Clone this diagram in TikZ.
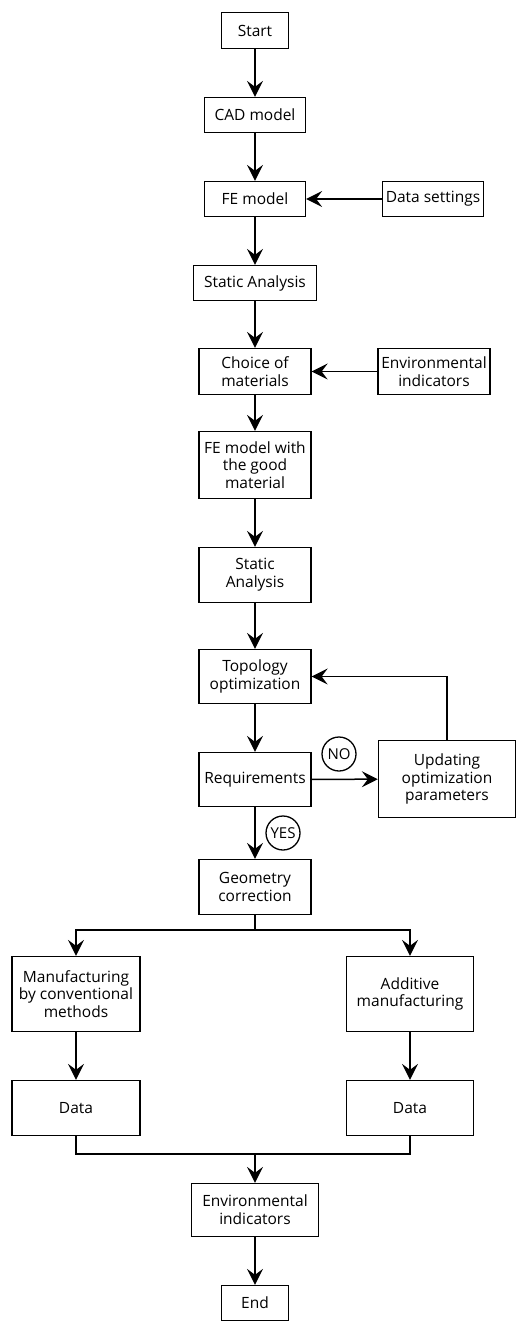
\documentclass[tikz,border=0pt]{standalone}
\usepackage{fontspec}
\setmainfont{Open Sans}
\usetikzlibrary{arrows.meta}
\begin{document}
\begin{tikzpicture}[x=1pt, y=-1pt,
        box/.style={draw, line width=1.3pt, align=center, inner sep=2pt,
            font=\fontsize{15.5}{17.7}\selectfont},
        tag/.style={draw, circle, line width=1.3pt, minimum size=34pt, inner sep=0pt,
            font=\fontsize{15}{15}\selectfont},
        arr/.style={line width=1.5pt, -{Stealth[length=16pt, width=16pt, inset=6pt]}},
        lin/.style={line width=1.5pt}]
        \useasboundingbox (0,0) rectangle (517,1322);

        \node[box, minimum width=67pt, minimum height=36pt] (start) at (255,30.5) {Start};
        \node[box, minimum width=101pt, minimum height=35pt] (cad) at (255,115) {CAD model};
        \node[box, minimum width=101pt, minimum height=35pt] (fe) at (255,199) {FE model};
        \node[box, minimum width=101pt, minimum height=35pt] (dset) at (433,199) {Data settings};
        \node[box, minimum width=123pt, minimum height=35pt] (stat1) at (255,283) {Static Analysis};
        \node[box, minimum width=112pt, minimum height=46pt] (choice) at (255,371.5) {Choice of\\materials};
        \node[box, minimum width=112pt, minimum height=46pt] (env1) at (434,371.5) {Environmental\\indicators};
        \node[box, minimum width=112pt, minimum height=67pt] (femat) at (255,465) {FE model with\\the good\\material};
        \node[box, minimum width=112pt, minimum height=55pt] (stat2) at (255,575) {Static\\Analysis};
        \node[box, minimum width=112pt, minimum height=54pt] (topo) at (255,676.5) {Topology\\optimization};
        \node[box, minimum width=112pt, minimum height=54pt] (req) at (255,779.5) {Requirements};
        \node[box, minimum width=137pt, minimum height=77pt] (upd) at (447,779) {Updating\\optimization\\parameters};
        \node[box, minimum width=112pt, minimum height=55pt] (geo) at (255,887) {Geometry\\correction};
        \node[box, minimum width=128pt, minimum height=75pt] (manu) at (76,994) {Manufacturing\\by conventional\\methods};
        \node[box, minimum width=127pt, minimum height=75pt] (add) at (410,994) {Additive\\manufacturing};
        \node[box, minimum width=128pt, minimum height=55pt] (data1) at (76,1108) {Data};
        \node[box, minimum width=127pt, minimum height=55pt] (data2) at (410,1108) {Data};
        \node[box, minimum width=127pt, minimum height=53pt] (env2) at (255,1210) {Environmental\\indicators};
        \node[box, minimum width=67pt, minimum height=35pt] (end) at (255,1303) {End};

        \node[tag] (no) at (339,754) {NO};
        \node[tag] (yes) at (283,833) {YES};

        \coordinate (split) at (255,930);
        \coordinate (merge) at (255,1154);

        \draw[arr] (start) -- (cad);
        \draw[arr] (cad) -- (fe);
        \draw[arr] (dset) -- (fe);
        \draw[arr] (fe) -- (stat1);
        \draw[arr] (stat1) -- (choice);
        \draw[arr] (env1) -- (choice);
        \draw[arr] (choice) -- (femat);
        \draw[arr] (femat) -- (stat2);
        \draw[arr] (stat2) -- (topo);
        \draw[arr] (topo) -- (req);
        \draw[arr] (req) -- (upd);
        \draw[arr] (upd.north) |- (topo.east);
        \draw[arr] (req) -- (geo);
        \draw[lin] (geo.south) -- (split);
        \draw[arr] (split) -| (manu.north);
        \draw[arr] (split) -| (add.north);
        \draw[arr] (manu) -- (data1);
        \draw[arr] (add) -- (data2);
        \draw[lin] (data1.south) |- (merge);
        \draw[lin] (data2.south) |- (merge);
        \draw[arr] (merge) -- (env2);
        \draw[arr] (env2) -- (end);
    \end{tikzpicture}
\end{document}
